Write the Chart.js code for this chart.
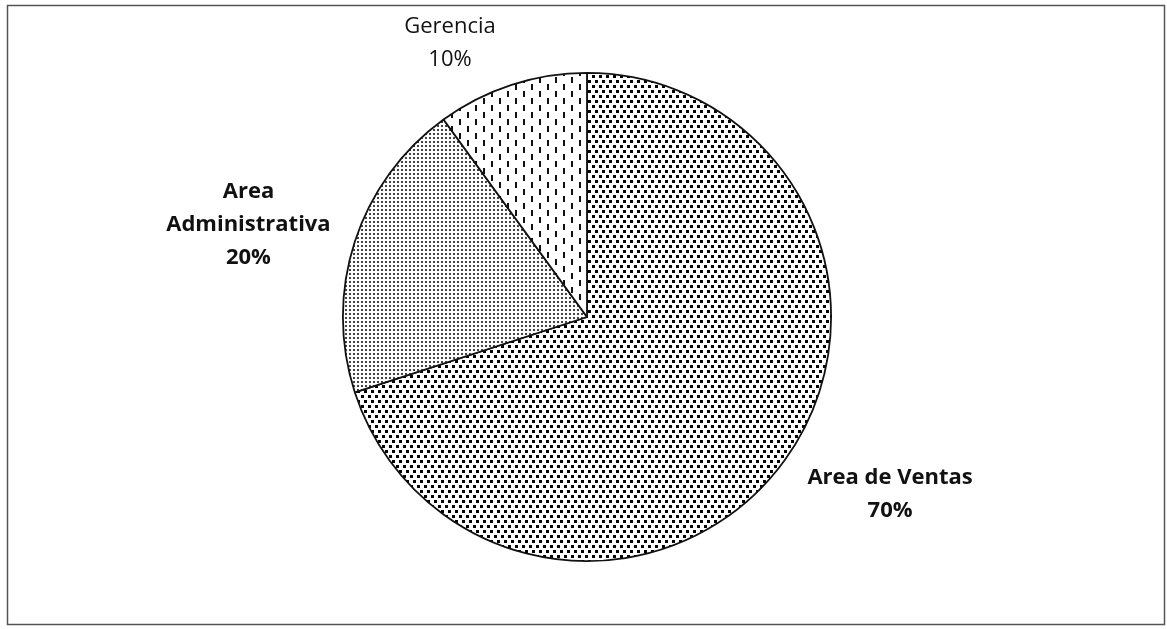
<!DOCTYPE html>
<html>
<head>
<meta charset="utf-8">
<script src="https://cdn.jsdelivr.net/npm/chart.js@4.4.1/dist/chart.umd.min.js"></script>
<style>
  html, body { margin: 0; padding: 0; background: #fff; }
  #wrap { position: relative; width: 1167px; height: 629px; }
</style>
</head>
<body>
<div id="wrap"><canvas id="grafico" width="1167" height="629"></canvas></div>
<script>
// datos del gráfico
const categorias = ['Area de Ventas', 'Area Administrativa', 'Gerencia']
const valores = [70, 20, 10]
const etiquetas = [['Area de Ventas', '70%'], ['Area', 'Administrativa', '20%'], ['Gerencia', '10%']]
const negritas = [true, true, false]

// tramas de relleno (como la impresión en blanco y negro)
const trama = (w, h, dibujar) => {
    const c = document.createElement('canvas')
    c.width = w
    c.height = h
    const ctx = c.getContext('2d')
    ctx.fillStyle = '#fff'
    ctx.fillRect(0, 0, w, h)
    dibujar(ctx)
    return ctx.createPattern(c, 'repeat')
}

const tramaVentas = trama(7, 10, ctx => {
    ctx.fillStyle = '#000'
    ctx.fillRect(0, 0, 3, 3)
    ctx.fillRect(4, 5, 3, 3)
})

const tramaAdmin = trama(4, 4, ctx => {
    ctx.fillStyle = '#444'
    ctx.fillRect(1, 1, 2, 2)
})

const tramaGerencia = trama(16, 14, ctx => {
    ctx.fillStyle = '#111'
    ctx.fillRect(3, 0, 2, 6)
    ctx.fillRect(11, 7, 2, 6)
})

// marco exterior
const marco = {
    id: 'marco',
    beforeDraw(chart) {
        const ctx = chart.ctx
        ctx.save()
        ctx.fillStyle = '#fff'
        ctx.fillRect(0, 0, chart.width, chart.height)
        ctx.strokeStyle = '#555'
        ctx.lineWidth = 1.5
        ctx.strokeRect(7.5, 5.5, 1157, 619)
        ctx.restore()
    }
}

// etiquetas fuera del pastel
const posEtiquetas = [{ dist: 351, giro: -5.7 }, { dist: 351, giro: -2.7 }, { dist: 306, giro: -8.6 }]

const rotulos = {
    id: 'rotulos',
    afterDatasetsDraw(chart) {
        const ctx = chart.ctx
        const arcos = chart.getDatasetMeta(0).data
        ctx.save()
        ctx.fillStyle = '#111'
        ctx.textAlign = 'center'
        ctx.textBaseline = 'middle'
        arcos.forEach((arco, i) => {
            const medio = (arco.startAngle + arco.endAngle) / 2 + posEtiquetas[i].giro * Math.PI / 180
            const x = arco.x + Math.cos(medio) * posEtiquetas[i].dist
            const y = arco.y + Math.sin(medio) * posEtiquetas[i].dist
            const lineas = etiquetas[i]
            const alto = 33
            ctx.font = (negritas[i] ? 'bold ' : '') + "22px 'Open Sans', sans-serif"
            lineas.forEach((t, j) => {
                ctx.fillText(t, x, y + (j - (lineas.length - 1) / 2) * alto)
            })
        })
        ctx.restore()
    }
}

const config = {
    type: 'pie',
    data: {
        labels: categorias,
        datasets: [{
            data: valores,
            backgroundColor: [tramaVentas, tramaAdmin, tramaGerencia],
            borderColor: '#111',
            borderWidth: 1.8,
            hoverOffset: 0
        }]
    },
    options: {
        responsive: false,
        animation: false,
        layout: {
            padding: { left: 342, right: 335, top: 72, bottom: 67 }
        },
        plugins: {
            legend: { display: false },
            tooltip: { enabled: false }
        }
    },
    plugins: [marco, rotulos]
}

new Chart(document.getElementById('grafico'), config)
</script>
</body>
</html>
